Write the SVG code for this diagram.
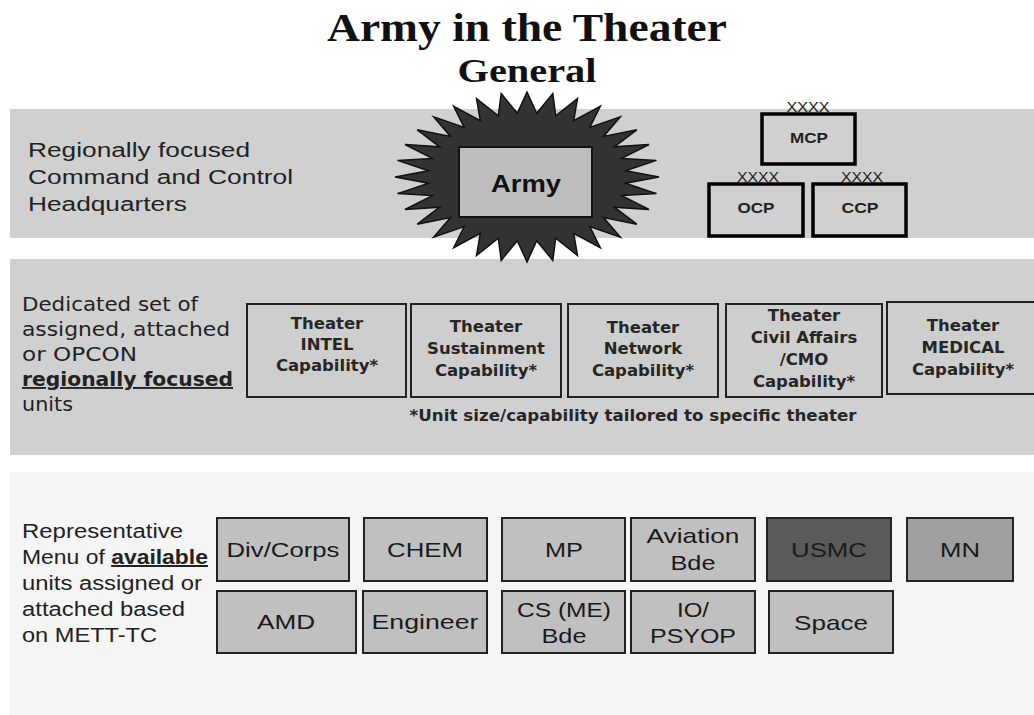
<svg xmlns="http://www.w3.org/2000/svg" width="1034" height="715" viewBox="0 0 1034 715">
<style>
.title{font-family:"Liberation Serif","Times New Roman",serif;font-weight:bold;fill:#111;text-anchor:middle}
.band{fill:#d0d0d0}
.lbl{font-family:"Liberation Sans",Arial,sans-serif;font-size:20px;fill:#222}
.lbl2{font-family:"DejaVu Sans","Liberation Sans",sans-serif;font-size:19px;fill:#222}
.b{font-weight:bold;text-decoration:underline}
.cmd{fill:#d0d0d0;stroke:#000;stroke-width:3.5}
.cmdt{font-family:"Liberation Sans",Arial,sans-serif;font-weight:bold;font-size:14px;fill:#222;text-anchor:middle}
.xx{font-family:"Liberation Sans",Arial,sans-serif;font-size:14px;fill:#222;text-anchor:middle}
.thbox{fill:#cecece;stroke:#222;stroke-width:2}
.th{font-family:"DejaVu Sans","Liberation Sans",sans-serif;font-weight:bold;font-size:16.5px;fill:#262626;text-anchor:middle}
.ubox{fill:#c0c0c0;stroke:#222;stroke-width:2}
.ut{font-family:"Liberation Sans",Arial,sans-serif;font-size:21px;fill:#1a1a1a;text-anchor:middle}
</style>
<rect x="0" y="0" width="1034" height="715" fill="#ffffff"/>
<g id="bands">
<rect class="band" x="10" y="109" width="1024" height="129"/>
<rect class="band" x="10" y="259" width="1024" height="196"/>
<rect x="10" y="472" width="1024" height="243" fill="#f5f5f5"/>
</g>
<g id="title">
<text class="title" x="527" y="41" font-size="40" textLength="400" lengthAdjust="spacingAndGlyphs">Army in the Theater</text>
<text class="title" x="527" y="82" font-size="33" textLength="139" lengthAdjust="spacingAndGlyphs">General</text>
</g>
<g id="label-hq">
<text class="lbl" x="28" y="157" textLength="222" lengthAdjust="spacingAndGlyphs">Regionally focused</text>
<text class="lbl" x="28" y="184" textLength="265" lengthAdjust="spacingAndGlyphs">Command and Control</text>
<text class="lbl" x="28" y="211" textLength="159" lengthAdjust="spacingAndGlyphs">Headquarters</text>
</g>
<g id="army">
<polygon fill="#333333" stroke="#111" stroke-width="1.5" points="527,92 536.7,113.3 552.8,93.6 555.7,115.8 577.5,98.5 573.7,120.6 600.3,106.3 589.8,127.5 620.3,116.9 603.5,136.4 636.8,129.8 614.3,146.8 649,144.5 621.7,158.4 656.5,160.4 625.5,170.7 659,177 625.5,183.3 656.5,193.6 621.7,195.6 649,209.5 614.3,207.2 636.8,224.2 603.5,217.6 620.3,237.1 589.8,226.5 600.3,247.7 573.7,233.4 577.5,255.5 555.7,238.2 552.8,260.4 536.7,240.7 527,262 517.3,240.7 501.2,260.4 498.3,238.2 476.5,255.5 480.3,233.4 453.7,247.7 464.2,226.5 433.7,237.1 450.5,217.6 417.2,224.2 439.7,207.2 405,209.5 432.3,195.6 397.5,193.6 428.5,183.3 395,177 428.5,170.7 397.5,160.4 432.3,158.4 405,144.5 439.7,146.8 417.2,129.8 450.5,136.4 433.7,116.9 464.2,127.5 453.7,106.3 480.3,120.6 476.5,98.5 498.3,115.8 501.2,93.6 517.3,113.3"/>
<rect x="459" y="147" width="133" height="70" fill="#bdbdbd" stroke="#111" stroke-width="2"/>
<text x="526" y="192" font-family="'Liberation Sans',Arial,sans-serif" font-weight="bold" font-size="23" fill="#111" text-anchor="middle" textLength="70" lengthAdjust="spacingAndGlyphs">Army</text>
</g>
<g id="mcp">
<rect class="cmd" x="762" y="114" width="93" height="50"/>
<text class="xx" x="808" y="112" textLength="43" lengthAdjust="spacingAndGlyphs">XXXX</text>
<text class="cmdt" x="809" y="143" textLength="38" lengthAdjust="spacingAndGlyphs">MCP</text>
</g>
<g id="ocp">
<rect class="cmd" x="709" y="184" width="94" height="52"/>
<text class="xx" x="758" y="182" textLength="42" lengthAdjust="spacingAndGlyphs">XXXX</text>
<text class="cmdt" x="756" y="213" textLength="37" lengthAdjust="spacingAndGlyphs">OCP</text>
</g>
<g id="ccp">
<rect class="cmd" x="813" y="184" width="93" height="52"/>
<text class="xx" x="862" y="182" textLength="42" lengthAdjust="spacingAndGlyphs">XXXX</text>
<text class="cmdt" x="860" y="213" textLength="37" lengthAdjust="spacingAndGlyphs">CCP</text>
</g>
<g id="label-dedicated">
<text class="lbl2" x="22" y="311" textLength="176" lengthAdjust="spacingAndGlyphs">Dedicated set of</text>
<text class="lbl2" x="22" y="336" textLength="208" lengthAdjust="spacingAndGlyphs">assigned, attached</text>
<text class="lbl2" x="22" y="361" textLength="115" lengthAdjust="spacingAndGlyphs">or OPCON</text>
<text class="lbl2 b" x="22" y="386" textLength="211" lengthAdjust="spacingAndGlyphs">regionally focused</text>
<text class="lbl2" x="22" y="411" textLength="51" lengthAdjust="spacingAndGlyphs">units</text>
</g>
<g id="intel">
<rect class="thbox" x="247" y="304" width="159" height="93"/>
<text class="th" x="327" y="329">Theater</text>
<text class="th" x="327" y="350">INTEL</text>
<text class="th" x="327" y="371">Capability*</text>
</g>
<g id="sustainment">
<rect class="thbox" x="411" y="304" width="150" height="93"/>
<text class="th" x="486" y="332">Theater</text>
<text class="th" x="486" y="354">Sustainment</text>
<text class="th" x="486" y="376">Capability*</text>
</g>
<g id="network">
<rect class="thbox" x="568" y="304" width="150" height="93"/>
<text class="th" x="643" y="333">Theater</text>
<text class="th" x="643" y="354">Network</text>
<text class="th" x="643" y="376">Capability*</text>
</g>
<g id="civil-affairs">
<rect class="thbox" x="726" y="304" width="156" height="93"/>
<text class="th" x="804" y="321">Theater</text>
<text class="th" x="804" y="343">Civil Affairs</text>
<text class="th" x="804" y="365">/CMO</text>
<text class="th" x="804" y="387">Capability*</text>
</g>
<g id="medical">
<rect class="thbox" x="887" y="302" width="160" height="92"/>
<text class="th" x="963" y="331">Theater</text>
<text class="th" x="963" y="353">MEDICAL</text>
<text class="th" x="963" y="375">Capability*</text>
</g>
<g id="footnote">
<text x="633" y="421" font-family="'DejaVu Sans','Liberation Sans',sans-serif" font-weight="bold" font-size="15" fill="#262626" text-anchor="middle" textLength="447" lengthAdjust="spacingAndGlyphs">*Unit size/capability tailored to specific theater</text>
</g>
<g id="label-menu">
<text class="lbl" x="22" y="538" textLength="161" lengthAdjust="spacingAndGlyphs">Representative</text>
<text class="lbl" x="22" y="564" textLength="186" lengthAdjust="spacingAndGlyphs">Menu of <tspan class="b">available</tspan></text>
<text class="lbl" x="22" y="590" textLength="180" lengthAdjust="spacingAndGlyphs">units assigned or</text>
<text class="lbl" x="22" y="616" textLength="163" lengthAdjust="spacingAndGlyphs">attached based</text>
<text class="lbl" x="22" y="642" textLength="135" lengthAdjust="spacingAndGlyphs">on METT-TC</text>
</g>
<g id="divcorps"><rect class="ubox" x="217" y="518" width="132" height="63"/><text class="ut" x="283" y="557" textLength="113" lengthAdjust="spacingAndGlyphs">Div/Corps</text></g>
<g id="chem"><rect class="ubox" x="364" y="518" width="123" height="63"/><text class="ut" x="425" y="557" textLength="76" lengthAdjust="spacingAndGlyphs">CHEM</text></g>
<g id="mp"><rect class="ubox" x="502" y="518" width="123" height="63"/><text class="ut" x="564" y="557" textLength="38" lengthAdjust="spacingAndGlyphs">MP</text></g>
<g id="aviation"><rect class="ubox" x="631" y="518" width="124" height="63"/><text class="ut" x="693" y="543" textLength="93" lengthAdjust="spacingAndGlyphs">Aviation</text><text class="ut" x="693" y="570" textLength="45" lengthAdjust="spacingAndGlyphs">Bde</text></g>
<g id="usmc"><rect x="767" y="518" width="124" height="63" fill="#5a5a5a" stroke="#222" stroke-width="2"/><text class="ut" x="829" y="557" textLength="76" lengthAdjust="spacingAndGlyphs">USMC</text></g>
<g id="mn"><rect x="907" y="518" width="106" height="63" fill="#a0a0a0" stroke="#222" stroke-width="2"/><text class="ut" x="960" y="557" textLength="40" lengthAdjust="spacingAndGlyphs">MN</text></g>
<g id="amd"><rect class="ubox" x="217" y="591" width="139" height="62"/><text class="ut" x="286" y="629" textLength="58" lengthAdjust="spacingAndGlyphs">AMD</text></g>
<g id="engineer"><rect class="ubox" x="363" y="591" width="124" height="62"/><text class="ut" x="425" y="629" textLength="107" lengthAdjust="spacingAndGlyphs">Engineer</text></g>
<g id="csme"><rect class="ubox" x="502" y="591" width="123" height="62"/><text class="ut" x="564" y="617" textLength="94" lengthAdjust="spacingAndGlyphs">CS (ME)</text><text class="ut" x="564" y="643" textLength="45" lengthAdjust="spacingAndGlyphs">Bde</text></g>
<g id="iopsyop"><rect class="ubox" x="631" y="591" width="124" height="62"/><text class="ut" x="693" y="617" textLength="32" lengthAdjust="spacingAndGlyphs">IO/</text><text class="ut" x="693" y="643" textLength="86" lengthAdjust="spacingAndGlyphs">PSYOP</text></g>
<g id="space"><rect class="ubox" x="769" y="591" width="124" height="62"/><text class="ut" x="831" y="630" textLength="74" lengthAdjust="spacingAndGlyphs">Space</text></g>
<g id="connectors"></g>
</svg>
